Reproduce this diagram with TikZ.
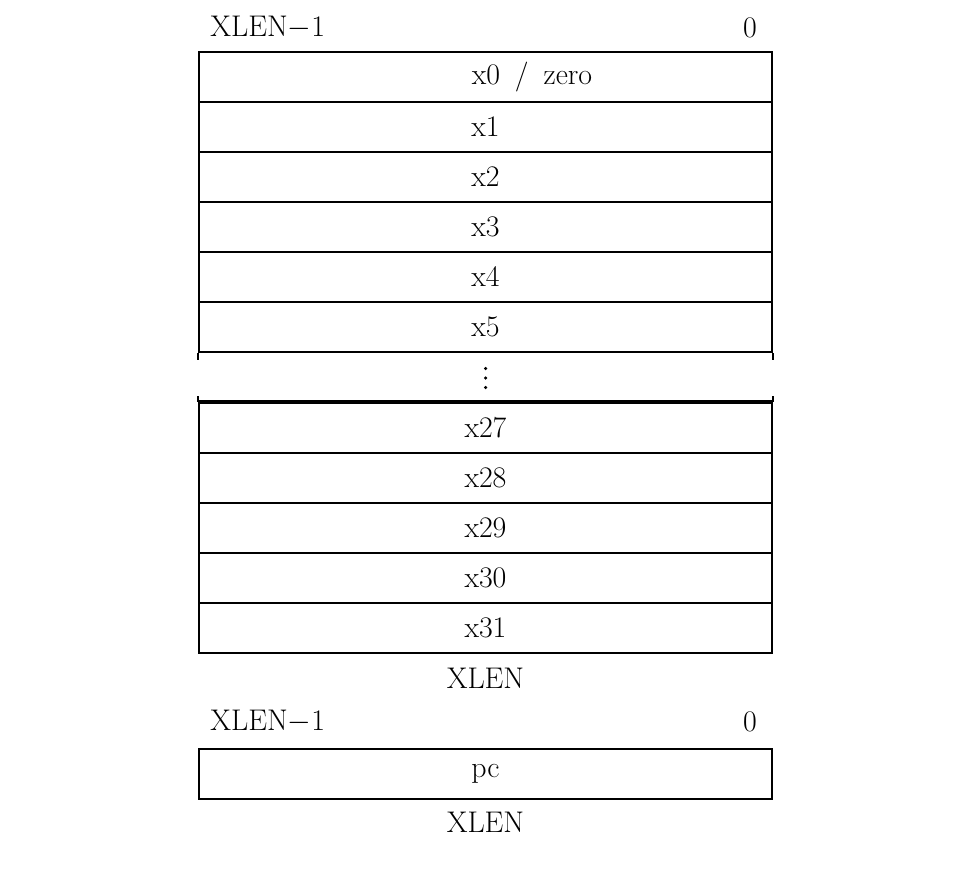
\documentclass[tikz,border=0pt]{standalone}
\usepackage{amsmath}
\usetikzlibrary{positioning,calc}

\tikzset{
	regrow/.style={draw, line width=1.3pt, minimum width=11.46cm, minimum height=1cm, inner sep=0pt},
	bitlbl/.style={inner sep=0pt}
}

\begin{document}
\begin{tikzpicture}[font=\fontsize{17}{20}\selectfont]
	\useasboundingbox (0,0) rectangle (19.36,-17.38);
	% integer registers
	\node[bitlbl, anchor=west] (hi) at (4.2,-0.56) {XLEN$-$1};
	\node[bitlbl] (lo) at (15.0,-0.56) {0};
	\node[regrow] (r0) at (9.71,-1.54) {};
	\node[bitlbl] (r0lbl) at (10.64,-1.54) {x0\enspace/\enspace zero};
	\foreach \i in {1,...,5}
		\node[regrow] (r\i) at (9.71,-1.54-\i) {x\i};
	\coordinate (dots) at (9.71,-7.56);
	\foreach \d in {-0.19,0,0.19}
		\fill ($(dots)+(0,\d)$) circle (0.035);
	\foreach \i [count=\k] in {27,...,31}
		\node[regrow] (r\i) at (9.71,-7.56-\k) {x\i};
	\draw[line width=1.3pt] (r5.south west) -- ++(0,-0.14);
	\draw[line width=1.3pt] (r5.south east) -- ++(0,-0.14);
	\draw[line width=1.3pt] (r27.north west) -- ++(0,0.12);
	\draw[line width=1.3pt] (r27.north east) -- ++(0,0.12);
	\draw[line width=2.2pt] (r27.north west) -- (r27.north east);
	\node[bitlbl] (w) at (9.71,-13.56) {XLEN};
	
	% program counter
	\node[bitlbl, anchor=west] (pchi) at (4.2,-14.44) {XLEN$-$1};
	\node[bitlbl] (pclo) at (15.0,-14.44) {0};
	\node[regrow] (pc) at (9.71,-15.48) {pc};
	\node[bitlbl] (pcw) at (9.71,-16.44) {XLEN};
\end{tikzpicture}
\end{document}
